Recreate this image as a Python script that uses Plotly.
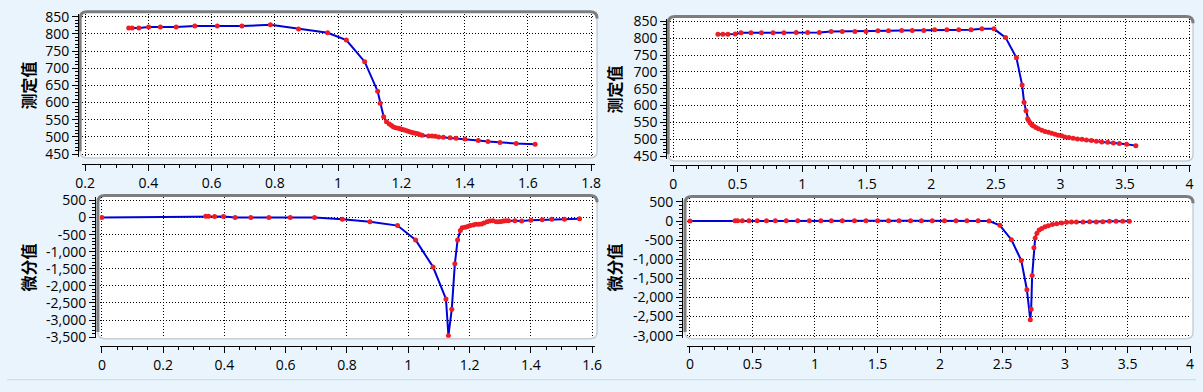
import numpy as np
import plotly.graph_objects as go

W, H = 1203, 392

# ---------------- data ----------------
TL_X = [0.338, 0.349, 0.370, 0.401, 0.438, 0.488, 0.547, 0.618, 0.696, 0.786,
        0.875, 0.967, 1.026, 1.084, 1.125, 1.133, 1.144, 1.153,
        1.162, 1.169, 1.175, 1.182, 1.190, 1.196, 1.203, 1.210, 1.217, 1.224,
        1.231, 1.238, 1.245, 1.252, 1.258, 1.266,
        1.286, 1.297, 1.307, 1.318, 1.333, 1.354, 1.373, 1.401, 1.443, 1.474,
        1.512, 1.563, 1.623]
TL_Y = [817, 817, 817, 820, 820, 820, 823, 823, 823, 826,
        814, 803, 782, 719, 633, 598, 559, 544,
        538, 533, 529, 527, 525, 524, 522, 520, 518, 516,
        514, 512, 511, 509, 507, 505,
        503, 503, 502, 500, 499, 498, 496, 494, 490, 487,
        484, 481, 479]

BL_X = [0, 0.339, 0.348, 0.368, 0.397, 0.435, 0.486, 0.545, 0.615,
        0.694, 0.785, 0.875, 0.965, 1.024, 1.081, 1.123, 1.131, 1.142, 1.152,
        1.161, 1.170, 1.176,
        1.185, 1.194, 1.202, 1.212, 1.220, 1.230, 1.239, 1.247, 1.257, 1.266,
        1.276, 1.287, 1.295, 1.303, 1.311, 1.319, 1.327, 1.348, 1.370, 1.400,
        1.437, 1.468, 1.510, 1.559]
BL_Y = [0, 40, 40, 35, 30, 0, 0, 5, 5,
        0, -48, -122, -234, -655, -1448, -2381, -3456, -2680, -1355,
        -655, -375, -300,
        -280, -262, -234, -215, -196, -196, -187, -159, -122, -103,
        -93, -122, -122, -112, -103, -93, -93, -93, -103, -75,
        -65, -47, -47, -37]

TR_X = [0.347, 0.385, 0.424, 0.480, 0.526, 0.603, 0.684, 0.774, 0.858, 0.953,
        1.042, 1.132, 1.224, 1.310, 1.408, 1.494, 1.586, 1.668,
        1.770, 1.852, 1.941, 2.025, 2.120, 2.212, 2.307, 2.391, 2.485, 2.575,
        2.659, 2.703, 2.718, 2.733, 2.746,
        2.754, 2.766, 2.779, 2.792, 2.810, 2.830, 2.856, 2.881, 2.907, 2.932,
        2.958, 2.983, 3.009, 3.034, 3.065, 3.098, 3.132, 3.167, 3.201, 3.239,
        3.278, 3.320, 3.366, 3.410, 3.456, 3.512, 3.584]
TR_Y = [812, 812, 812, 813, 816, 816, 816, 816, 816, 817,
        817, 817, 820, 820, 820, 820, 822, 822,
        823, 823, 823, 825, 825, 825, 825, 828, 828, 802,
        742, 661, 610, 585, 561,
        555, 548, 542, 539, 535, 531, 527, 523, 521, 518,
        515, 512, 510, 507, 505, 503, 501, 500, 498, 496,
        494, 492, 491, 489, 487, 485, 481]

BR_X = [0, 0.361, 0.380, 0.419, 0.472, 0.538, 0.612, 0.683, 0.770, 0.862,
        0.955, 1.047, 1.131, 1.218, 1.316, 1.408, 1.501, 1.588,
        1.672, 1.764, 1.851, 1.938, 2.036, 2.128, 2.215, 2.305, 2.392,
        2.479, 2.571, 2.650, 2.695, 2.722, 2.729, 2.737, 2.751, 2.761, 2.775,
        2.793,
        2.814, 2.840, 2.866, 2.898, 2.933, 2.972, 3.012, 3.051, 3.091, 3.144,
        3.197, 3.250, 3.302, 3.355, 3.408, 3.461, 3.514]
BR_Y = [0, 5, 5, 5, 5, 5, 5, 5, 5, 5,
        5, 5, 5, 5, 5, 5, 5, 5,
        5, 5, 5, 5, 5, 5, 5, 5, 0,
        -111, -489, -1033, -1798, -2587, -2310, -1428, -698, -446, -320,
        -237,
        -194, -151, -126, -93, -68, -51, -34, -25, -25, -25,
        -17, -25, -17, -8, -8, -8, -8]

TL_XTICKS = [0.2, 0.4, 0.6, 0.8, 1.0, 1.2, 1.4, 1.6, 1.8]
TL_XTEXT = ["0.2", "0.4", "0.6", "0.8", "1", "1.2", "1.4", "1.6", "1.8"]
BL_XTICKS = [0, 0.2, 0.4, 0.6, 0.8, 1.0, 1.2, 1.4, 1.6]
BL_XTEXT = ["0", "0.2", "0.4", "0.6", "0.8", "1", "1.2", "1.4", "1.6"]
R_XTICKS = [0, 0.5, 1, 1.5, 2, 2.5, 3, 3.5, 4]
R_XTEXT = ["0", "0.5", "1", "1.5", "2", "2.5", "3", "3.5", "4"]
TOP_YTICKS = [450, 500, 550, 600, 650, 700, 750, 800, 850]
TOP_YTEXT = ["450", "500", "550", "600", "650", "700", "750", "800", "850"]
BL_YTICKS = [-3500, -3000, -2500, -2000, -1500, -1000, -500, 0, 500]
BL_YTEXT = ["-3,500", "-3,000", "-2,500", "-2,000", "-1,500", "-1,000", "-500", "0", "500"]
BR_YTICKS = [-3000, -2500, -2000, -1500, -1000, -500, 0, 500]
BR_YTEXT = ["-3,000", "-2,500", "-2,000", "-1,500", "-1,000", "-500", "0", "500"]
TITLE_TOP = "测定值"
TITLE_BOT = "微分值"

# ---------------- style ----------------
BG = "#E9F4FC"
LINE_C = "#0000D8"
MARK_C = "#EE1C24"
TICK_FONT = dict(family="Open Sans", size=14, color="#000000")


def fx(p):
    return p / W


def fy(p):
    return 1 - p / H


def lin(va, pa, vb, pb, p):
    return va + (p - pa) * (vb - va) / (pb - pa)


panels = [
    dict(frame=(74, 5, 597, 157), dom_x=(76, 595), dom_y=(7, 156),
         xmap=(0.2, 79, 1.8, 591), ymap=(850, 10, 450, 153),
         yline=72, xline=163, xt=TL_XTICKS, xs=TL_XTEXT, yt=TOP_YTICKS, ys=TOP_YTEXT,
         xminor=0.05, yminor=10, title=TITLE_TOP, tpos=(21, 82), X=TL_X, Y=TL_Y),
    dict(frame=(92, 196, 597, 345), dom_x=(94, 595), dom_y=(198, 344),
         xmap=(0, 96, 1.6, 592), ymap=(500, 201.2, -3500, 343.3),
         yline=89, xline=353, xt=BL_XTICKS, xs=BL_XTEXT, yt=BL_YTICKS, ys=BL_YTEXT,
         xminor=0.05, yminor=100, title=TITLE_BOT, tpos=(21, 271), X=BL_X, Y=BL_Y),
    dict(frame=(669, 10, 1200, 160), dom_x=(671, 1198), dom_y=(12, 158),
         xmap=(0, 674, 4, 1196.5), ymap=(850, 15, 450, 155),
         yline=667, xline=164, xt=R_XTICKS, xs=R_XTEXT, yt=TOP_YTICKS, ys=TOP_YTEXT,
         xminor=0.1, yminor=10, title=TITLE_TOP, tpos=(614, 86), X=TR_X, Y=TR_Y),
    dict(frame=(686, 197, 1200, 345), dom_x=(688, 1198), dom_y=(199, 344),
         xmap=(0, 691, 4, 1197), ymap=(500, 202.7, -3000, 341.7),
         yline=683, xline=352, xt=R_XTICKS, xs=R_XTEXT, yt=BR_YTICKS, ys=BR_YTEXT,
         xminor=0.1, yminor=100, title=TITLE_BOT, tpos=(614, 271), X=BR_X, Y=BR_Y),
]

fig = go.Figure()
shapes = []
annotations = []
layout_axes = {}


def rounded_path(x0, y0, x1, y1, r):
    X0, X1 = fx(x0), fx(x1)
    Y0, Y1 = fy(y0), fy(y1)
    rx, ry = r / W, r / H
    return (f"M {X0},{Y0 - ry} Q {X0},{Y0} {X0 + rx},{Y0} L {X1 - rx},{Y0} "
            f"Q {X1},{Y0} {X1},{Y0 - ry} L {X1},{Y1 + ry} Q {X1},{Y1} {X1 - rx},{Y1} "
            f"L {X0 + rx},{Y1} Q {X0},{Y1} {X0},{Y1 + ry} Z")


def topleft_path(x0, y0, x1, y1, r):
    X0, X1 = fx(x0), fx(x1)
    Y0, Y1 = fy(y0), fy(y1)
    rx, ry = r / W, r / H
    return (f"M {X0},{Y1 + ry} L {X0},{Y0 - ry} Q {X0},{Y0} {X0 + rx},{Y0} "
            f"L {X1 - rx},{Y0} Q {X1},{Y0} {X1},{Y0 - ry}")


for i, p in enumerate(panels, start=1):
    xn = "x" if i == 1 else f"x{i}"
    yn = "y" if i == 1 else f"y{i}"
    xa = "xaxis" if i == 1 else f"xaxis{i}"
    ya = "yaxis" if i == 1 else f"yaxis{i}"

    fig.add_trace(go.Scatter(
        x=p["X"], y=p["Y"], xaxis=xn, yaxis=yn, mode="lines+markers",
        line=dict(color=LINE_C, width=2),
        marker=dict(color=MARK_C, size=5, symbol="circle"),
        showlegend=False, hoverinfo="x+y"))

    va, pa, vb, pb = p["xmap"]
    xr = [lin(va, pa, vb, pb, p["dom_x"][0]), lin(va, pa, vb, pb, p["dom_x"][1])]
    va, pa, vb, pb = p["ymap"]
    yr = [lin(va, pa, vb, pb, p["dom_y"][1]), lin(va, pa, vb, pb, p["dom_y"][0])]

    xminor_vals = list(np.arange(p["xt"][0], p["xt"][-1] + 1e-9, p["xminor"]))
    yminor_vals = list(np.arange(p["yt"][0], p["yt"][-1] + 1e-9, p["yminor"]))

    layout_axes[xa] = dict(
        domain=[fx(p["dom_x"][0]), fx(p["dom_x"][1])], range=xr,
        anchor="free", position=fy(p["xline"]), side="bottom",
        showline=True, linecolor="#000000", linewidth=1,
        ticks="outside", ticklen=6, tickwidth=1, tickcolor="#000000",
        tickmode="array", tickvals=p["xt"], ticktext=p["xs"],
        tickfont=TICK_FONT, ticklabelstandoff=0,
        showgrid=True, gridcolor="#000000", gridwidth=1, griddash="1px,2px",
        zeroline=False, fixedrange=True,
        minor=dict(tickmode="array", tickvals=xminor_vals, ticks="outside",
                   ticklen=3, tickcolor="#000000", tickwidth=1, showgrid=False),
    )
    layout_axes[ya] = dict(
        domain=[fy(p["dom_y"][1]), fy(p["dom_y"][0])], range=yr,
        anchor="free", position=fx(p["yline"]), side="left",
        showline=True, linecolor="#000000", linewidth=1,
        ticks="outside", ticklen=6, tickwidth=1, tickcolor="#000000",
        tickmode="array", tickvals=p["yt"], ticktext=p["ys"],
        tickfont=TICK_FONT, ticklabelstandoff=0,
        showgrid=True, gridcolor="#000000", gridwidth=1, griddash="1px,2px",
        zeroline=False, fixedrange=True,
        minor=dict(tickmode="array", tickvals=yminor_vals, ticks="outside",
                   ticklen=3, tickcolor="#000000", tickwidth=1, showgrid=False),
    )

    x0, y0, x1, y1 = p["frame"]
    shapes.append(dict(type="path", xref="paper", yref="paper", layer="below",
                       path=rounded_path(x0, y0, x1, y1, 7),
                       fillcolor="#FFFFFF", line=dict(color="#C9CED3", width=1.5)))
    shapes.append(dict(type="path", xref="paper", yref="paper", layer="below",
                       path=topleft_path(x0, y0, x1, y1, 7),
                       line=dict(color="#7D7D7D", width=3)))

    tx, ty = p["tpos"]
    annotations.append(dict(
        x=fx(tx), y=fy(ty), xref="paper", yref="paper", showarrow=False,
        text=f"<b>{p['title']}</b>", textangle=-90,
        font=dict(family="Noto Sans CJK SC", size=16, color="#000000"),
        xanchor="center", yanchor="middle"))

shapes.append(dict(type="line", xref="paper", yref="paper", layer="below",
                   x0=0, x1=1, y0=fy(387.5), y1=fy(387.5),
                   line=dict(color="#C6DCEB", width=1)))

fig.update_layout(
    width=W, height=H, autosize=False,
    margin=dict(l=0, r=0, t=0, b=0, pad=0),
    paper_bgcolor=BG, plot_bgcolor="rgba(0,0,0,0)",
    showlegend=False, shapes=shapes, annotations=annotations,
    **layout_axes,
)

fig.write_html(
    "out.html",
    config={"displayModeBar": False, "staticPlot": True},
    post_script="document.body.style.margin='0';document.body.style.overflow='hidden';"
                "document.documentElement.style.background='" + BG + "';",
)
